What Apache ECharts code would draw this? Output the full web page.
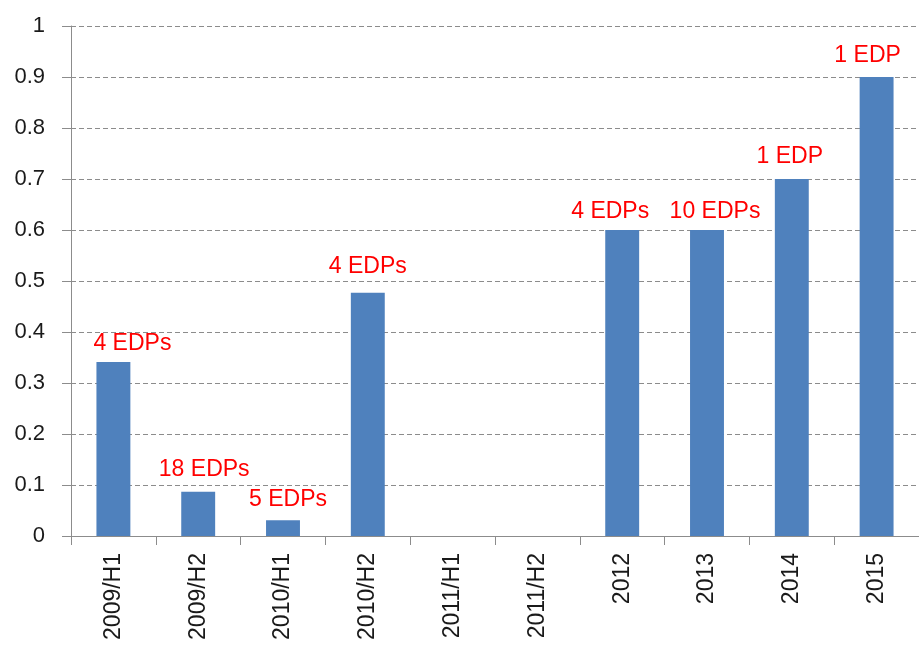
<!DOCTYPE html>
<html>
<head>
<meta charset="utf-8">
<script src="https://cdn.jsdelivr.net/npm/echarts@6/dist/echarts.min.js"></script>
<style>
html,body{margin:0;padding:0;background:#fff;}
#chart{width:919px;height:646px;}
</style>
</head>
<body>
<div id="chart"></div>
<script>
const categories = ['2009/H1','2009/H2','2010/H1','2010/H2','2011/H1','2011/H2','2012','2013','2014','2015'];
const values = [0.341, 0.087, 0.031, 0.477, 0, 0, 0.6, 0.6, 0.7, 0.9];
const edpLabels = ['4 EDPs','18 EDPs','5 EDPs','4 EDPs','','','4 EDPs','10 EDPs','1 EDP','1 EDP'];
const yTicks = [0, 0.1, 0.2, 0.3, 0.4, 0.5, 0.6, 0.7, 0.8, 0.9, 1];

// label nudges (style only)
const labelOffsets = [[19,0],[6,-3],[5,-2],[0,-8],[0,0],[0,0],[-12,0],[8,0],[-2,-4],[-9,-3]];

const FONT = '"Liberation Sans", Arial, sans-serif';
const chart = echarts.init(document.getElementById('chart'));
chart.setOption({
  animation: false,
  backgroundColor: '#fff',
  grid: { left: 71, top: 26, width: 856, bottom: 110, containLabel: false },
  xAxis: {
    type: 'category',
    data: categories,
    axisLine: { show: true, lineStyle: { color: '#8c8c8c', width: 1 } },
    axisTick: { show: true, alignWithLabel: false, length: 9, lineStyle: { color: '#8c8c8c' } },
    axisLabel: { rotate: 90, margin: 17, fontSize: 23, color: '#1a1a1a', fontFamily: FONT, interval: 0 },
    splitLine: { show: false }
  },
  yAxis: {
    type: 'value',
    min: 0, max: 1, interval: 0.1,
    axisLine: { show: true, lineStyle: { color: '#8c8c8c', width: 1 } },
    axisTick: { show: true, length: 9, lineStyle: { color: '#8c8c8c' } },
    axisLabel: {
      margin: 26, fontSize: 22, color: '#1a1a1a', fontFamily: FONT,
      formatter: function (v) { const i = yTicks.findIndex(t => Math.abs(t - v) < 1e-9); return i >= 0 ? String(yTicks[i]) : ''; }
    },
    splitLine: { show: true, lineStyle: { color: '#8c8c8c', type: [5, 3], width: 1 } }
  },
  series: [{
    type: 'bar',
    barWidth: '40%',
    itemStyle: { color: '#4f81bd' },
    data: values.map((v, i) => ({
      value: v,
      label: {
        show: edpLabels[i] !== '',
        position: 'top',
        distance: 7,
        offset: labelOffsets[i],
        formatter: edpLabels[i],
        color: '#ff0000',
        fontSize: 23,
        fontFamily: FONT
      }
    }))
  }]
});
</script>
</body>
</html>
